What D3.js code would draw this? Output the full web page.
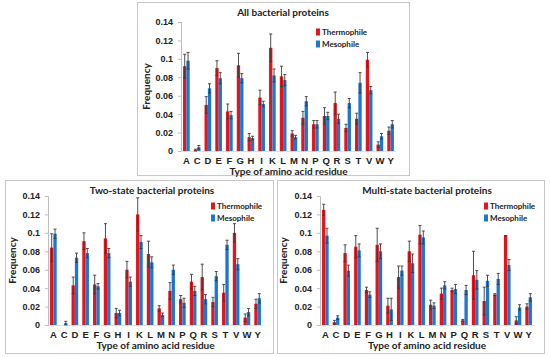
<!DOCTYPE html>
<html><head><meta charset="utf-8">
<script src="https://cdn.jsdelivr.net/npm/d3@7"></script>
<style>body{margin:0;background:#fff;}svg{display:block;font-family:Lato,"Open Sans",sans-serif;}</style>
</head><body><svg id="c" width="550" height="357"></svg>
<script>
const residues = ["A","C","D","E","F","G","H","I","K","L","M","N","P","Q","R","S","T","V","W","Y"];
const yTicks = [0,0.02,0.04,0.06,0.08,0.1,0.12,0.14];
const tickLabels = ["0","0.02","0.04","0.06","0.08","0.1","0.12","0.14"];
const seriesNames = ["Thermophile","Mesophile"];

const allThermo = [0.092,0.001,0.050,0.090,0.043,0.093,0.015,0.058,0.112,0.081,0.019,0.036,0.029,0.038,0.052,0.025,0.035,0.099,0.007,0.022];
const allThermoErr = [0.013,0.001,0.009,0.008,0.008,0.013,0.004,0.008,0.015,0.011,0.003,0.007,0.004,0.009,0.012,0.004,0.006,0.008,0.003,0.004];
const allMeso = [0.098,0.004,0.068,0.079,0.039,0.079,0.014,0.051,0.082,0.077,0.015,0.054,0.029,0.038,0.035,0.052,0.074,0.066,0.016,0.029];
const allMesoErr = [0.009,0.002,0.005,0.006,0.004,0.005,0.002,0.003,0.007,0.006,0.002,0.005,0.004,0.004,0.005,0.005,0.011,0.004,0.003,0.004];

const twoThermo = [0.084,0.000,0.043,0.091,0.044,0.094,0.013,0.060,0.120,0.077,0.018,0.037,0.028,0.047,0.052,0.025,0.035,0.100,0.008,0.023];
const twoThermoErr = [0.015,0.000,0.009,0.009,0.010,0.016,0.005,0.009,0.018,0.014,0.003,0.009,0.004,0.008,0.014,0.005,0.009,0.010,0.004,0.005];
const twoMeso = [0.099,0.002,0.073,0.078,0.042,0.078,0.013,0.047,0.090,0.068,0.011,0.060,0.024,0.037,0.028,0.053,0.087,0.066,0.014,0.029];
const twoMesoErr = [0.005,0.002,0.005,0.005,0.003,0.005,0.003,0.005,0.007,0.006,0.002,0.005,0.005,0.005,0.005,0.005,0.005,0.006,0.004,0.005];

const multiThermo = [0.125,0.003,0.078,0.085,0.038,0.087,0.021,0.052,0.080,0.098,0.022,0.034,0.038,0.005,0.054,0.026,0.033,0.097,0.005,0.020];
const multiThermoErr = [0.006,0.002,0.009,0.012,0.003,0.018,0.008,0.012,0.011,0.010,0.005,0.006,0.002,0.001,0.026,0.015,0.001,0.000,0.004,0.003];
const multiMeso = [0.097,0.008,0.059,0.081,0.033,0.080,0.017,0.059,0.067,0.095,0.021,0.043,0.039,0.038,0.049,0.048,0.050,0.065,0.019,0.030];
const multiMesoErr = [0.008,0.002,0.006,0.007,0.003,0.008,0.012,0.005,0.010,0.007,0.003,0.004,0.005,0.005,0.010,0.006,0.006,0.006,0.003,0.004];

const titles = ["All bacterial proteins","Two-state bacterial proteins","Multi-state bacterial proteins"];
const colors = ["#e3141c","#1c78cf"];

const svg = d3.select("#c");

function panel(box, plot, title, thermo, thermoErr, meso, mesoErr){
  const g = svg.append("g");
  g.append("rect").attr("x",box.x+0.5).attr("y",box.y+0.5).attr("width",box.w).attr("height",box.h)
    .attr("fill","#fff").attr("stroke","#c8c8c8").attr("stroke-width",1);
  const x = d3.scaleBand().domain(residues).range([plot.x0, plot.x1]).paddingInner(0.38).paddingOuter(0.19);
  const xs = d3.scaleBand().domain([0,1]).range([0, x.bandwidth()]);
  const y = d3.scaleLinear().domain([0,0.14]).range([plot.y0, plot.y1]);

  const ya = g.append("g").attr("transform",`translate(${plot.x0},0)`)
    .call(d3.axisLeft(y).tickValues(yTicks).tickFormat((d,i)=>tickLabels[i]).tickSize(3).tickPadding(5));
  ya.select(".domain").attr("stroke","#bdbdbd");
  ya.selectAll(".tick line").attr("stroke","#bdbdbd");
  ya.selectAll(".tick text").attr("fill","#222").attr("font-size","9px").attr("font-weight","bold");

  const xa = g.append("g").attr("transform",`translate(0,${plot.y0})`)
    .call(d3.axisBottom(x).tickSize(0).tickPadding(6));
  xa.select(".domain").attr("stroke","#e0e0e0");
  xa.selectAll(".tick text").attr("fill","#222").attr("font-size","9.5px").attr("font-weight","bold");

  const data = [[thermo,thermoErr],[meso,mesoErr]];
  data.forEach((s,si)=>{
    const sg = g.append("g");
    sg.selectAll("rect").data(residues).join("rect")
      .attr("x",d=>x(d)+xs(si)).attr("width",xs.bandwidth())
      .attr("y",(d,i)=>y(s[0][i])).attr("height",(d,i)=>plot.y0-y(s[0][i]))
      .attr("fill",colors[si]);
    const eg = g.append("g").attr("stroke","#3a3a3a").attr("stroke-width",0.9);
    residues.forEach((d,i)=>{
      if(s[1][i]<=0 && s[0][i]<=0) return;
      const cx = x(d)+xs(si)+xs.bandwidth()/2;
      const lo = Math.max(0,s[0][i]-s[1][i]), hi = s[0][i]+s[1][i];
      eg.append("line").attr("x1",cx).attr("x2",cx).attr("y1",y(lo)).attr("y2",y(hi));
      eg.append("line").attr("x1",cx-1.5).attr("x2",cx+1.5).attr("y1",y(hi)).attr("y2",y(hi));
      eg.append("line").attr("x1",cx-1.5).attr("x2",cx+1.5).attr("y1",y(lo)).attr("y2",y(lo));
    });
  });

  g.append("text").attr("x",plot.titleX).attr("y",box.y+14).attr("text-anchor","middle")
    .attr("font-size","10px").attr("font-weight","bold").attr("fill","#222").text(title);
  g.append("text").attr("x",(plot.x0+plot.x1)/2).attr("y",plot.y0+24).attr("text-anchor","middle")
    .attr("font-size","10px").attr("font-weight","bold").attr("fill","#222").text("Type of amino acid residue");
  g.append("text").attr("transform",`translate(${plot.freqX},${(plot.y0+plot.y1)/2}) rotate(-90)`)
    .attr("text-anchor","middle").attr("font-size","10px").attr("font-weight","bold").attr("fill","#222").text("Frequency");

  seriesNames.forEach((n,i)=>{
    const ly = plot.legY + i*12;
    g.append("rect").attr("x",plot.legX).attr("y",ly-3.5).attr("width",4).attr("height",7).attr("fill",colors[i]);
    g.append("text").attr("x",plot.legX+6).attr("y",ly+3).attr("font-size","8px").attr("font-weight","bold")
      .attr("fill","#222").text(n);
  });
}

panel({x:137,y:2,w:272,h:173},{x0:181,x1:396,y0:151,y1:22,titleX:283,freqX:150,legX:316,legY:32},
  titles[0], allThermo, allThermoErr, allMeso, allMesoErr);
panel({x:5,y:180,w:268,h:173},{x0:48,x1:263,y0:325,y1:196,titleX:152,freqX:16,legX:211,legY:206},
  titles[1], twoThermo, twoThermoErr, twoMeso, twoMesoErr);
panel({x:277,y:180,w:267,h:173},{x0:320,x1:534,y0:325,y1:196,titleX:427,freqX:287,legX:484,legY:206},
  titles[2], multiThermo, multiThermoErr, multiMeso, multiMesoErr);
</script></body></html>
